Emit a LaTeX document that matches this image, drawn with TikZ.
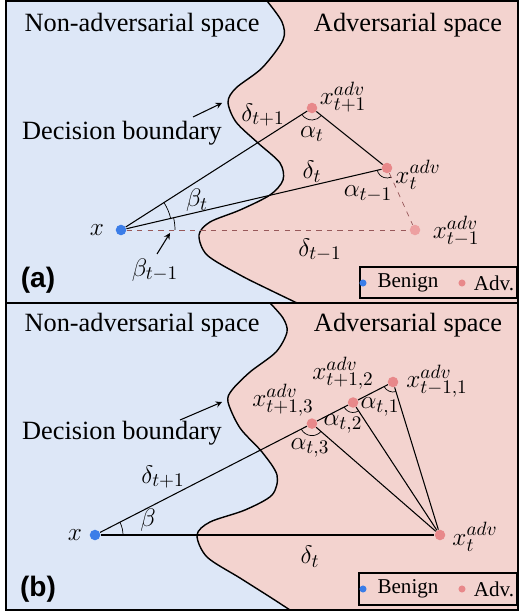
\documentclass[tikz,border=0pt]{standalone}
\usepackage{fontspec}
\setmainfont{Liberation Serif}
\newfontfamily\panelfont{Liberation Sans}
\usetikzlibrary{angles,calc}
\definecolor{benign}{RGB}{59,125,232}
\definecolor{advred}{RGB}{232,136,138}
\definecolor{nonbg}{RGB}{221,231,247}
\definecolor{advbg}{RGB}{243,211,207}
\begin{document}
\begin{tikzpicture}[x=0.02cm,y=-0.02cm,>=stealth,
  lbl/.style={font=\fontsize{15}{18}\selectfont,inner sep=0.5pt},
  keytext/.style={font=\fontsize{12}{14}\selectfont,inner sep=1pt},
  tag/.style={font=\fontsize{16}{19}\panelfont\bfseries},
  dot/.style={circle,fill=#1,inner sep=0pt,minimum size=6pt},
  keydot/.style={circle,fill=#1,inner sep=0pt,minimum size=4pt},
  ray/.style={semithick},
  faint/.style={dashed,draw=black!35!advred,thin}]
  \useasboundingbox (0,0) rectangle (520,614);
  \fill[nonbg] (6,1) rectangle (518,610);
  % (a) boundary and adversarial region
  \draw[thick,fill=advbg] plot[smooth] coordinates {(267,1) (282,22) (283,40) (262,68) (236,88)
    (228,102) (236,122) (258,143) (280,163) (283,180) (270,195) (240,210) (210,222) (199,235)
    (207,255) (240,275) (270,290) (297,303)} -- (518,303) -- (518,1) -- cycle;
  % (b) boundary and adversarial region
  \draw[thick,fill=advbg] plot[smooth] coordinates {(270,303) (283,318) (287,332) (276,352) (250,372)
    (232,390) (228,402) (240,428) (262,452) (277,475) (272,495) (245,510) (210,522) (197,535)
    (207,557) (240,578) (270,597) (290,610)} -- (518,610) -- (518,303) -- cycle;
  \draw[thick] (6,1) rectangle (518,610);
  \draw[thick] (6,303) -- (518,303);

  % panel (a)
  \node[lbl] (nona) at (142,25) {Non-adversarial space};
  \node[lbl] (adva) at (408,25) {Adversarial space};
  \node[lbl] (dba) at (122,133) {Decision boundary};
  \coordinate (dbatail) at (193,117);
  \coordinate (dbatip) at (222,103);
  \draw[->,semithick] (dbatail) -- (dbatip);
  \node[dot=benign] (xa) at (121,230) {};
  \node[dot=advred] (pa1) at (312,108) {};
  \node[dot=advred] (pa2) at (387,168) {};
  \node[dot=advred!80!white] (pa3) at (415,230) {};
  \draw[faint] (xa) -- (pa3);
  \draw[faint] (pa2) -- (pa3);
  \draw[ray] (xa) -- (pa1) -- (pa2) -- (xa);
  \pic[draw,angle radius=1.02cm] {angle=pa2--xa--pa1};
  \pic[draw,angle radius=1.08cm] {angle=pa3--xa--pa2};
  \pic[draw,angle radius=0.24cm] {angle=xa--pa1--pa2};
  \pic[draw,angle radius=0.2cm] {angle=xa--pa2--pa3};
  \node[lbl] (lxa) at (97,230) {$x$};
  \node[lbl] (lpa1) at (343,97) {$x_{t+1}^{adv}$};
  \node[lbl] (lpa2) at (418,175) {$x_{t}^{adv}$};
  \node[lbl] (lpa3) at (456,231) {$x_{t-1}^{adv}$};
  \node[lbl] (da1) at (263,115) {$\delta_{t+1}$};
  \node[lbl] (da2) at (312,172) {$\delta_{t}$};
  \node[lbl] (da3) at (320,250) {$\delta_{t-1}$};
  \node[lbl] (aa1) at (312,134) {$\alpha_{t}$};
  \node[lbl] (aa2) at (368,194) {$\alpha_{t-1}$};
  \node[lbl] (ba1) at (197,200) {$\beta_{t}$};
  \node[lbl] (ba2) at (155,270) {$\beta_{t-1}$};
  \coordinate (batail) at (157,254);
  \coordinate (batip) at (170,233);
  \draw[->,semithick] (batail) -- (batip);
  \node[tag] (taga) at (38,280) {(a)};
  \draw[semithick] (360,267) rectangle (517,298);
  \node[keydot=benign] (kba) at (363,283) {};
  \node[keytext] (kbta) at (408,283) {Benign};
  \node[keydot=advred] (kaa) at (462,283) {};
  \node[keytext] (kata) at (494,283) {Adv.};

  % panel (b)
  \node[lbl] (nonb) at (142,325) {Non-adversarial space};
  \node[lbl] (advb) at (408,325) {Adversarial space};
  \node[lbl] (dbb) at (122,433) {Decision boundary};
  \coordinate (dbbtail) at (180,420);
  \coordinate (dbbtip) at (222,402);
  \draw[->,semithick] (dbbtail) -- (dbbtip);
  \node[dot=benign] (xb) at (95,535) {};
  \node[dot=advred] (pt) at (440,535) {};
  \node[dot=advred] (q1) at (393,382) {};
  \node[dot=advred] (q2) at ($(xb)!0.866!(q1)$) {};
  \node[dot=advred] (q3) at ($(xb)!0.728!(q1)$) {};
  \draw[ray] (xb) -- (q3) -- (q2) -- (q1);
  \draw[ray] (xb) -- (pt);
  \draw[ray] (pt) -- (q3);
  \draw[ray] (pt) -- (q2);
  \draw[ray] (pt) -- (q1);
  \pic[draw,angle radius=0.56cm] {angle=pt--xb--q1};
  \pic[draw,angle radius=0.24cm] {angle=xb--q3--pt};
  \pic[draw,angle radius=0.2cm] {angle=xb--q2--pt};
  \pic[draw,angle radius=0.2cm] {angle=xb--q1--pt};
  \node[lbl] (lxb) at (75,535) {$x$};
  \node[lbl] (lpt) at (475,537) {$x_{t}^{adv}$};
  \node[lbl] (lq3) at (283,400) {$x_{t+1,3}^{adv}$};
  \node[lbl] (lq2) at (343,373) {$x_{t+1,2}^{adv}$};
  \node[lbl] (lq1) at (437,381) {$x_{t-1,1}^{adv}$};
  \node[lbl] (db1) at (163,477) {$\delta_{t+1}$};
  \node[lbl] (db2) at (310,557) {$\delta_{t}$};
  \node[lbl] (ab3) at (310,448) {$\alpha_{t,3}$};
  \node[lbl] (ab2) at (343,424) {$\alpha_{t,2}$};
  \node[lbl] (ab1) at (380,407) {$\alpha_{t,1}$};
  \node[lbl] (bb) at (148,520) {$\beta$};
  \node[tag] (tagb) at (38,589) {(b)};
  \draw[semithick] (359,573) rectangle (517,605);
  \node[keydot=benign] (kbb) at (363,589) {};
  \node[keytext] (kbtb) at (408,589) {Benign};
  \node[keydot=advred] (kab) at (462,589) {};
  \node[keytext] (katb) at (494,589) {Adv.};
\end{tikzpicture}
\end{document}
